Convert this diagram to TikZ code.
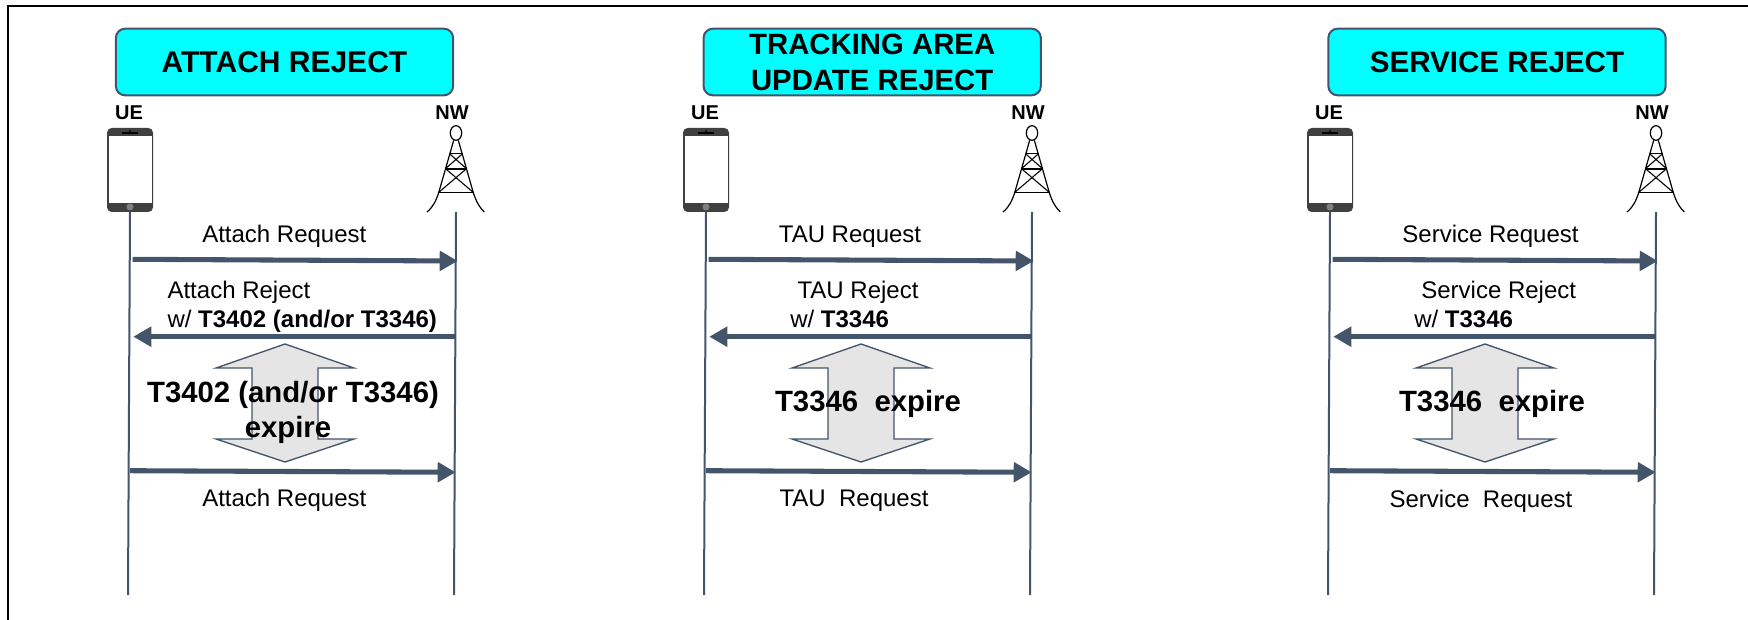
\documentclass[tikz,border=0pt]{standalone}
\usepackage{fontspec}
\setmainfont{Liberation Sans}
\usetikzlibrary{arrows.meta}
\definecolor{slate}{HTML}{44546A}
\definecolor{phonegrey}{HTML}{404040}
\definecolor{titlecyan}{HTML}{00FFFF}
\tikzset{
  framestyle/.style={draw=black,line width=1.5pt},
  titlebox/.style={draw=slate,line width=1.5pt,fill=titlecyan,rounded corners=7pt,minimum width=253pt,minimum height=50pt,inner sep=0pt,align=center,font=\fontsize{22}{27}\selectfont\bfseries},
  endlabel/.style={anchor=base,inner sep=0pt,font=\fontsize{15}{18}\selectfont\bfseries},
  msglabel/.style={anchor=base,inner sep=0pt,font=\fontsize{18}{22}\selectfont},
  msgleft/.style={anchor=base west,inner sep=0pt,font=\fontsize{18}{22}\selectfont},
  timerlabel/.style={anchor=base,inner sep=0pt,font=\fontsize{22}{27}\selectfont\bfseries},
  lifeline/.style={draw=slate,line width=1.5pt},
  msgline/.style={draw=slate,fill=slate,line width=3.8pt,-{Triangle[length=13.5pt,width=14.5pt]}},
  every pic/.style={yscale=-1},
  phone/.pic={
    \fill[phonegrey,rounded corners=3.5pt] (-23,-42) rectangle (23,42);
    \fill[white] (-21,-34.3) rectangle (21.5,32.7);
    \draw[black,line width=0.8pt] (-8,-37) -- (8,-37);
    \fill[black] (0,-39) circle (1);
    \fill[gray] (0,37) circle (3.5);
    \coordinate (-bot) at (0,42);
  },
  tower/.pic={
    \draw[black,line width=0.9pt] (0,0) ellipse (5.7 and 7.3);
    \draw[black,line width=0.9pt] (-29,79) .. controls (-23,74) and (-20,68) .. (-17.2,59.3) -- (-2.3,7.3);
    \draw[black,line width=0.9pt] (28.3,79) .. controls (23,74) and (20,68) .. (17.2,59.3) -- (2.3,7.3);
    \draw[black,line width=0.8pt] (-6.5,20.7) -- (6.5,20.7) (-17.2,59.3) -- (17.2,59.3);
    \draw[black,line width=1.4pt] (-10.5,35.7) -- (10.5,35.7);
    \draw[black,line width=0.8pt] (-6.5,20.7) -- (10.5,35.7) (6.5,20.7) -- (-10.5,35.7);
    \draw[black,line width=0.8pt] (-10.5,35.7) -- (17.2,59.3) (10.5,35.7) -- (-17.2,59.3);
    \coordinate (-bot) at (0,79);
  },
  timerarrow/.pic={
    \draw[slate,fill=black!10,line width=1pt] (0,-59) -- (69,-35) -- (33,-35) -- (33,36) -- (69,36) -- (0,59) -- (-69,36) -- (-33,36) -- (-33,-35) -- (-69,-35) -- cycle;
  }
}

\begin{document}
\begin{tikzpicture}[x=0.75pt,y=0.75pt,yscale=-1,xscale=1]
\useasboundingbox (0,0) rectangle (1748,620);

%Shape: Frame
\coordinate (frameTR) at (1748,6);
\coordinate (frameTL) at (8,6);
\coordinate (frameBL) at (8,620);
\draw[framestyle] (frameTR) -- (frameTL) -- (frameBL);

%Shape: Title Boxes
\node[titlebox,font=\fontsize{22.5}{27}\selectfont\bfseries] (titleAttach) at (284.5,62) {ATTACH REJECT};
\node[titlebox] (titleTau) at (872.2,62) {TRACKING AREA\\UPDATE REJECT};
\node[titlebox,font=\fontsize{22.2}{27}\selectfont\bfseries] (titleService) at (1497,62) {SERVICE REJECT};

%Shape: Phones
\pic (ueAttach) at (130,170) {phone};
\pic (ueTau) at (706,170) {phone};
\pic (ueService) at (1330,170) {phone};

%Shape: Towers
\pic (nwAttach) at (456,133) {tower};
\pic (nwTau) at (1032,133) {tower};
\pic (nwService) at (1656,133) {tower};

%Shape: Timer Arrows
\pic at (285,403) {timerarrow};
\pic at (861,403) {timerarrow};
\pic at (1485,403) {timerarrow};

%Straight Lines: life lines
\coordinate (ueAttachEnd) at (128,595);
\coordinate (nwAttachEnd) at (454,595);
\coordinate (ueTauEnd) at (704,595);
\coordinate (nwTauEnd) at (1030,595);
\coordinate (ueServiceEnd) at (1328,595);
\coordinate (nwServiceEnd) at (1654,595);
\draw[lifeline] (ueAttach-bot) -- (ueAttachEnd);
\draw[lifeline] (nwAttach-bot) -- (nwAttachEnd);
\draw[lifeline] (ueTau-bot) -- (ueTauEnd);
\draw[lifeline] (nwTau-bot) -- (nwTauEnd);
\draw[lifeline] (ueService-bot) -- (ueServiceEnd);
\draw[lifeline] (nwService-bot) -- (nwServiceEnd);

%Straight Lines: Attach
\coordinate (reqAttachA) at (132.7,259.3);
\coordinate (reqAttachB) at (457.7,261);
\coordinate (rejAttachA) at (455,336.7);
\coordinate (rejAttachB) at (133.3,336.7);
\coordinate (againAttachA) at (130,470.7);
\coordinate (againAttachB) at (455.7,472.3);
\draw[msgline] (reqAttachA) -- (reqAttachB);
\draw[msgline] (rejAttachA) -- (rejAttachB);
\draw[msgline] (againAttachA) -- (againAttachB);

%Straight Lines: TAU
\coordinate (reqTauA) at (708.7,259.3);
\coordinate (reqTauB) at (1033.7,261);
\coordinate (rejTauA) at (1031,336.7);
\coordinate (rejTauB) at (709.3,336.7);
\coordinate (againTauA) at (706,470.7);
\coordinate (againTauB) at (1031.7,472.3);
\draw[msgline] (reqTauA) -- (reqTauB);
\draw[msgline] (rejTauA) -- (rejTauB);
\draw[msgline] (againTauA) -- (againTauB);

%Straight Lines: Service
\coordinate (reqServiceA) at (1332.7,259.3);
\coordinate (reqServiceB) at (1657.7,261);
\coordinate (rejServiceA) at (1655,336.7);
\coordinate (rejServiceB) at (1333.3,336.7);
\coordinate (againServiceA) at (1330,470.7);
\coordinate (againServiceB) at (1655.7,472.3);
\draw[msgline] (reqServiceA) -- (reqServiceB);
\draw[msgline] (rejServiceA) -- (rejServiceB);
\draw[msgline] (againServiceA) -- (againServiceB);

% Text Node
\node[endlabel] (ueLabelAttach) at (129,120) {UE};
\node[endlabel] (nwLabelAttach) at (452,120) {NW};
\node[endlabel] (ueLabelTau) at (705,120) {UE};
\node[endlabel] (nwLabelTau) at (1028,120) {NW};
\node[endlabel] (ueLabelService) at (1329,120) {UE};
\node[endlabel] (nwLabelService) at (1652,120) {NW};

% Text Node
\node[msglabel] (txtReqAttach) at (284.3,243) {Attach Request};
\node[msgleft] (txtRejAttach) at (167.3,298) {Attach Reject};
\node[msgleft] (txtWithAttach) at (167.3,327) {w/ \textbf{T3402 (and/or T3346)}};
\node[timerlabel] (txtTimerAttach) at (293,402.7) {T3402 (and/or T3346)};
\node[timerlabel] (txtExpireAttach) at (288,437) {expire};
\node[msglabel] (txtAgainAttach) at (284.3,506.7) {Attach Request};

% Text Node
\node[msglabel] (txtReqTau) at (850,243) {TAU Request};
\node[msglabel] (txtRejTau) at (858,298) {TAU Reject};
\node[msgleft] (txtWithTau) at (790,327) {w/ \textbf{T3346}};
\node[timerlabel] (txtTimerTau) at (868,411.7) {T3346\ \ expire};
\node[msglabel] (txtAgainTau) at (854,506.7) {TAU\ \ Request};

% Text Node
\node[msglabel] (txtReqService) at (1490.5,243) {Service Request};
\node[msglabel] (txtRejService) at (1498.7,298) {Service Reject};
\node[msgleft] (txtWithService) at (1414,327) {w/ \textbf{T3346}};
\node[timerlabel] (txtTimerService) at (1492,411.7) {T3346\ \ expire};
\node[msglabel] (txtAgainService) at (1481,507.7) {Service\ \ Request};

\end{tikzpicture}
\end{document}
